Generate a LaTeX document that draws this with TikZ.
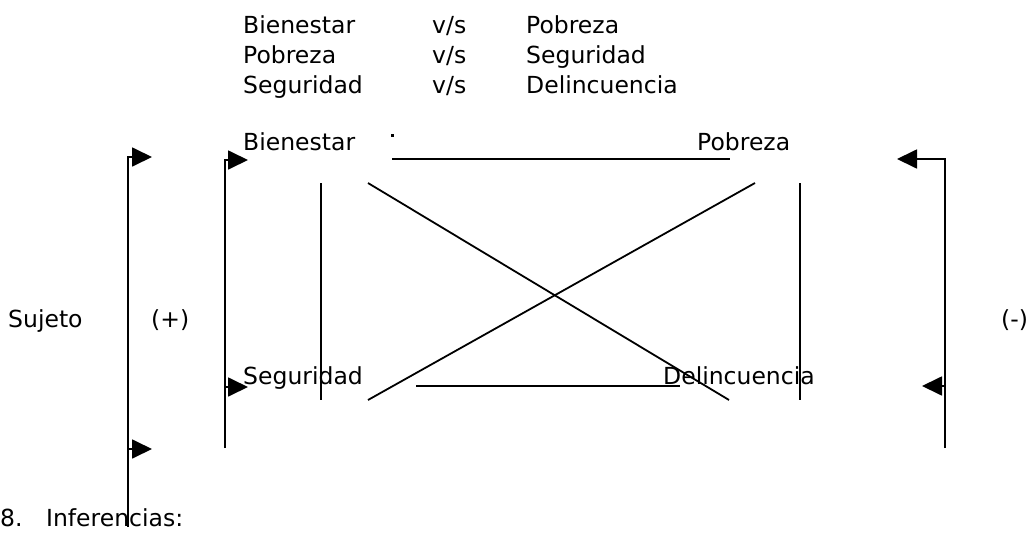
\documentclass[tikz,border=0pt]{standalone}
\usepackage{fontspec}
\setmainfont{DejaVu Sans}
\usetikzlibrary{arrows.meta}
\begin{document}
\begin{tikzpicture}[x=1pt,y=-1pt,
  txt/.style={anchor=base west,inner sep=0pt,font=\fontsize{23.5}{28}\selectfont},
  ln/.style={line width=1.8pt},
  arr/.style={line width=1.8pt,-{Triangle[length=20pt,width=19pt]}}]
\useasboundingbox (0,0) rectangle (1034,533);
% top list
\node[txt] (l1a) at (243,33) {Bienestar};
\node[txt] (l1b) at (432,33) {v/s};
\node[txt] (l1c) at (526,33) {Pobreza};
\node[txt] (l2a) at (243,63) {Pobreza};
\node[txt] (l2b) at (432,63) {v/s};
\node[txt] (l2c) at (526,63) {Seguridad};
\node[txt] (l3a) at (243,93) {Seguridad};
\node[txt] (l3b) at (432,93) {v/s};
\node[txt] (l3c) at (526,93) {Delincuencia};
% square labels
\node[txt] (bien) at (243,150) {Bienestar};
\node[txt] (pob) at (697,150) {Pobreza};
\node[txt] (seg) at (243,384) {Seguridad};
\node[txt] (del) at (663,384) {Delincuencia};
\node[txt] (suj) at (8,327) {Sujeto};
\node[txt] (plus) at (151,327) {(+)};
\node[txt] (minus) at (1001,327) {(-)};
\node[txt] (inf) at (0,526) {8.\hspace{1em}Inferencias:};
\fill (391,134) rectangle (394,137);
% square lines
\coordinate (ht1) at (392,159); \coordinate (ht2) at (730,159);
\coordinate (hb1) at (416,386); \coordinate (hb2) at (680,386);
\coordinate (vl1) at (321,183); \coordinate (vl2) at (321,400);
\coordinate (vr1) at (800,183); \coordinate (vr2) at (800,400);
\coordinate (d1a) at (368,183); \coordinate (d1b) at (729,400);
\coordinate (d2a) at (755,183); \coordinate (d2b) at (368,400);
\draw[ln] (ht1) -- (ht2);
\draw[ln] (hb1) -- (hb2);
\draw[ln] (vl1) -- (vl2);
\draw[ln] (vr1) -- (vr2);
\draw[ln] (d1a) -- (d1b);
\draw[ln] (d2a) -- (d2b);
% outer left
\coordinate (ol0) at (128,527); \coordinate (ol1) at (128,157); \coordinate (olt) at (152,157);
\coordinate (ol2) at (128,449); \coordinate (ol2t) at (152,449);
\draw[arr] (ol0) -- (ol1) -- (olt);
\draw[arr] (ol2) -- (ol2t);
% inner left
\coordinate (il0) at (225,448); \coordinate (il1) at (225,160); \coordinate (ilt) at (248,160);
\coordinate (il2) at (225,387); \coordinate (il2t) at (248,387);
\draw[arr] (il0) -- (il1) -- (ilt);
\draw[arr] (il2) -- (il2t);
% right
\coordinate (r0) at (945,448); \coordinate (r1) at (945,159); \coordinate (rt) at (897,159);
\coordinate (r2) at (945,386); \coordinate (r2t) at (922,386);
\draw[arr] (r0) -- (r1) -- (rt);
\draw[arr] (r2) -- (r2t);
\end{tikzpicture}
\end{document}
